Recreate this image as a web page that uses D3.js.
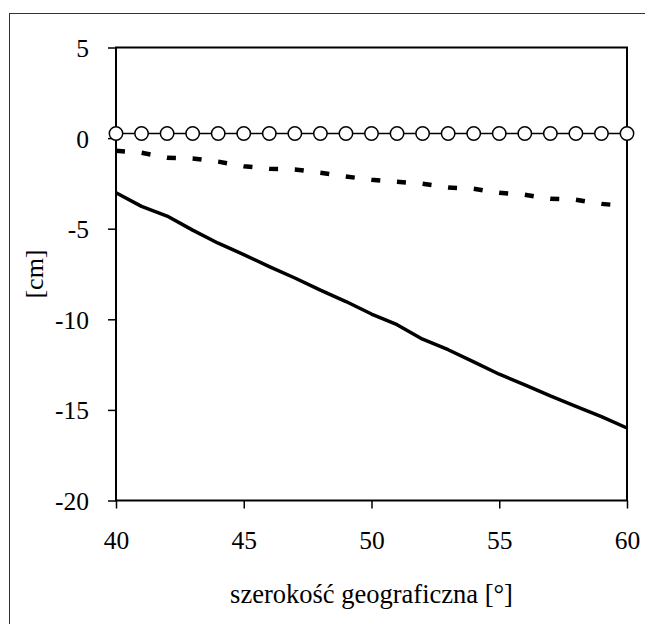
<!DOCTYPE html>
<html>
<head>
<meta charset="utf-8">
<script src="https://cdn.jsdelivr.net/npm/d3@7"></script>
<style>
  body { margin: 0; background: #fff; }
  svg { display: block; }
</style>
</head>
<body>
<svg id="chart" width="645" height="624" font-family="'Liberation Serif', 'Times New Roman', serif"></svg>
<script>
// latitude, deg
const latitude = d3.range(40, 61);
// series values [cm]
const circleSeries = [0.25, 0.25, 0.25, 0.25, 0.25, 0.25, 0.25, 0.25, 0.25, 0.25, 0.25,
                      0.25, 0.25, 0.25, 0.25, 0.25, 0.25, 0.25, 0.25, 0.25, 0.25];
const dashedSeries = [-0.70, -0.81, -1.08, -1.12, -1.30, -1.55, -1.69, -1.73, -1.91, -2.12, -2.30,
                      -2.41, -2.52, -2.72, -2.80, -3.02, -3.13, -3.35, -3.40, -3.63, -3.75];
const solidSeries  = [-3.02, -3.77, -4.30, -5.08, -5.80, -6.43, -7.09, -7.72, -8.39, -9.02, -9.71,
                      -10.30, -11.10, -11.68, -12.35, -13.03, -13.62, -14.23, -14.80, -15.37, -16.00];
const xTicks = [40, 45, 50, 55, 60];
const yTicks = [5, 0, -5, -10, -15, -20];

const FONT = "'Liberation Serif', 'Times New Roman', serif";
const svg = d3.select("#chart");
const margin = {left: 116, right: 18, top: 47.5, bottom: 123.5};
const W = 645, H = 624;

// outer frame (cut off at right and bottom)
svg.append("rect")
  .attr("x", 9.5).attr("y", 13.5)
  .attr("width", 700).attr("height", 700)
  .attr("fill", "none").attr("stroke", "#333").attr("stroke-width", 1);

const x = d3.scaleLinear().domain([40, 60]).range([margin.left, W - margin.right]);
const y = d3.scaleLinear().domain([-20, 5]).range([H - margin.bottom, margin.top]);

const g = svg.append("g");

// axes
const xAxis = g.append("g")
  .attr("transform", `translate(0,${y(-20)})`)
  .call(d3.axisBottom(x).tickValues(xTicks).tickSize(8).tickPadding(16).tickFormat(d3.format("d")));
const yAxis = g.append("g")
  .attr("transform", `translate(${x(40)},0)`)
  .call(d3.axisLeft(y).tickValues(yTicks).tickSize(8).tickPadding(19).tickFormat(d => d));

[xAxis, yAxis].forEach(a => {
  a.attr("font-family", FONT).attr("font-size", 25.5);
  a.select(".domain").remove();
  a.selectAll(".tick line").attr("stroke", "#000").attr("stroke-width", 1.5);
  a.selectAll("text").attr("fill", "#000");
});
xAxis.selectAll("text").attr("dy", "0.97em");
yAxis.selectAll("text").attr("dy", "0.35em");

// plot frame
g.append("rect")
  .attr("x", x(40)).attr("y", y(5))
  .attr("width", x(60) - x(40)).attr("height", y(-20) - y(5))
  .attr("fill", "none").attr("stroke", "#000").attr("stroke-width", 2);

const line = vals => d3.line().x((d, i) => x(latitude[i])).y(d => y(d))(vals);

g.append("path").attr("d", line(solidSeries))
  .attr("fill", "none").attr("stroke", "#000").attr("stroke-width", 3.5)
  .attr("stroke-linejoin", "round");

// one dash per 1° step
const dashed = g.append("path").attr("d", line(dashedSeries))
  .attr("fill", "none").attr("stroke", "#000").attr("stroke-width", 4.5);
const period = dashed.node().getTotalLength() / (latitude.length - 1);
dashed.attr("stroke-dasharray", `9,${period - 9}`);

g.append("path").attr("d", line(circleSeries))
  .attr("fill", "none").attr("stroke", "#000").attr("stroke-width", 1.5);

g.selectAll("circle.m").data(circleSeries).join("circle")
  .attr("class", "m")
  .attr("cx", (d, i) => x(latitude[i])).attr("cy", d => y(d))
  .attr("r", 6.7)
  .attr("fill", "#fff").attr("stroke", "#000").attr("stroke-width", 1.5);

// axis titles
svg.append("text")
  .attr("x", (x(40) + x(60)) / 2).attr("y", 603)
  .attr("text-anchor", "middle").attr("font-size", 26.5).attr("font-family", FONT)
  .text("szerokość geograficzna [°]");

svg.append("text")
  .attr("transform", `translate(43,${(y(5) + y(-20)) / 2}) rotate(-90)`)
  .attr("text-anchor", "middle").attr("font-size", 26).attr("font-family", FONT)
  .text("[cm]");
</script>
</body>
</html>
